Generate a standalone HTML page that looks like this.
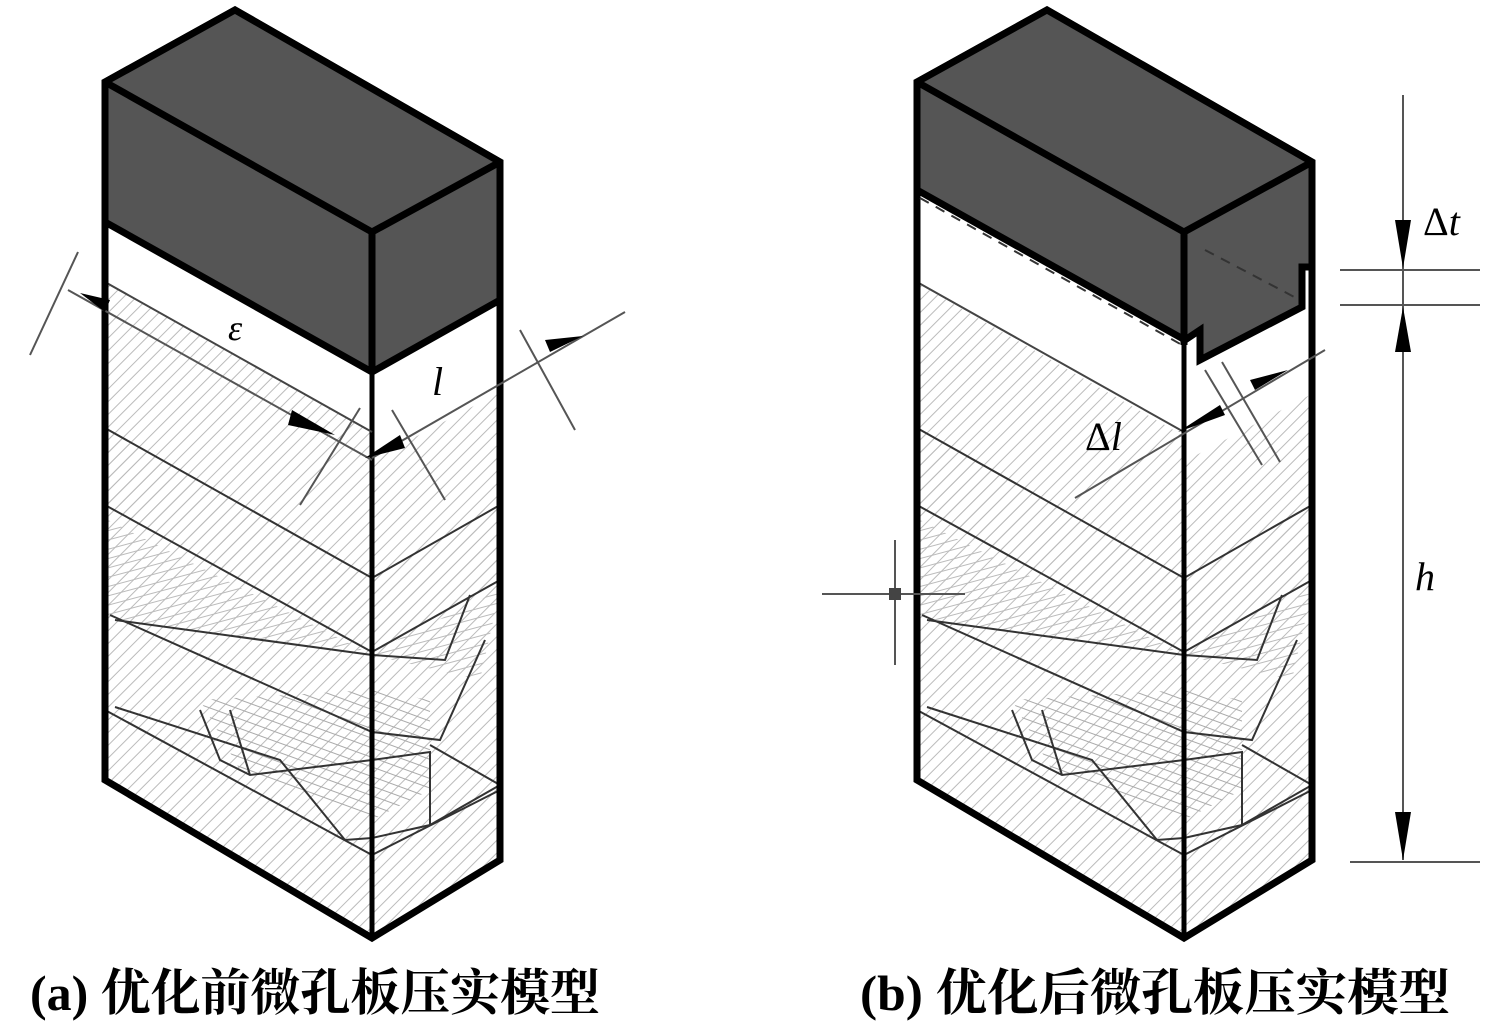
<!DOCTYPE html>
<html><head><meta charset="utf-8"><style>
html,body{margin:0;padding:0;background:#fff;}
svg{display:block;}
text{font-family:"Liberation Serif","Noto Serif CJK SC",serif;}
</style></head><body>
<svg width="1500" height="1026" viewBox="0 0 1500 1026" xmlns="http://www.w3.org/2000/svg">
<defs>
<pattern id="h1" width="9" height="9" patternUnits="userSpaceOnUse" patternTransform="rotate(45)">
<line x1="0" y1="0" x2="0" y2="9" stroke="#bbb" stroke-width="2"/></pattern>
<pattern id="h2" width="9" height="9" patternUnits="userSpaceOnUse" patternTransform="rotate(75)">
<line x1="0" y1="0" x2="0" y2="9" stroke="#bbb" stroke-width="2"/></pattern>
<pattern id="h3" width="9" height="9" patternUnits="userSpaceOnUse" patternTransform="rotate(-70)">
<line x1="0" y1="0" x2="0" y2="9" stroke="#aaa" stroke-width="2"/></pattern>
<g id="body">
<polygon points="105,282 372,432 372,938 105,780" fill="url(#h1)"/>
<polygon points="372,460 500,392 500,860 372,938" fill="url(#h1)"/>
<polygon points="108,508 372,652 500,580 500,500 372,578 108,430" fill="url(#h1)"/>
<polygon points="108,520 372,655 480,680 500,590 372,652 108,620" fill="url(#h2)"/>
<polygon points="200,700 372,690 430,700 430,790 372,820 240,770" fill="url(#h3)"/>
<g fill="none" stroke="#333" stroke-width="2">
<polyline points="105,428 372,578 500,505"/>
<polyline points="105,505 372,652 500,580"/>
<polyline points="115,620 372,655 445,660 470,595"/>
<polyline points="110,615 372,732 440,740 485,640"/>
<polyline points="115,707 280,760 345,840 372,838 430,825 500,785"/>
<polyline points="105,710 372,855 500,790"/>
<polyline points="200,710 220,760 250,775 372,760 430,752 430,825"/>
<polyline points="230,710 250,775"/>
<line x1="430" y1="745" x2="500" y2="785"/>
</g>
<g fill="none" stroke="#000" stroke-width="7" stroke-linejoin="miter">
<polygon points="105,82 235,10 500,162 500,860 372,938 105,780"/>
</g>
<line x1="372" y1="232" x2="372" y2="938" stroke="#000" stroke-width="5"/>
</g>
</defs>

<!-- (a) -->
<use href="#body"/>
<line x1="105" y1="282" x2="372" y2="432" stroke="#444" stroke-width="2"/>
<polygon points="105,82 235,10 500,162 500,300 372,372 105,222" fill="#555" stroke="#000" stroke-width="7" stroke-linejoin="miter"/>
<polyline points="105,82 372,232 500,162" fill="none" stroke="#000" stroke-width="7"/>
<line x1="372" y1="232" x2="372" y2="372" stroke="#000" stroke-width="7"/>
<line x1="105" y1="82" x2="105" y2="780" stroke="#000" stroke-width="7"/>
<g stroke="#555" stroke-width="2" fill="none">
<line x1="68" y1="290" x2="372" y2="460"/>
<line x1="30" y1="355" x2="78" y2="252"/>
<line x1="300" y1="505" x2="360" y2="408"/>
<line x1="372" y1="458" x2="625" y2="312"/>
<line x1="520" y1="330" x2="575" y2="430"/>
<line x1="392" y1="410" x2="445" y2="500"/>
</g>
<polygon points="105,312 80,293 110,300" fill="#000"/>
<polygon points="292,410 335,435 288,425" fill="#000"/>
<polygon points="365,458 400,435 405,448" fill="#000"/>
<polygon points="583,336 550,352 545,340" fill="#000"/>
<text x="228" y="340" font-size="36" font-style="italic">ε</text>
<text x="432" y="395" font-size="40" font-style="italic">l</text>

<!-- (b) -->
<use href="#body" transform="translate(812,0)"/>
<polygon points="920,200 1182,345 1184,436 920,285" fill="#fff"/>
<polygon points="1187,350 1310,280 1310,395 1187,460" fill="#fff"/>
<line x1="917" y1="282" x2="1184" y2="432" stroke="#444" stroke-width="2"/>
<polygon points="917,82 1047,10 1312,162 1312,267 1302,267 1302,307 1200,360 1200,330 1185,340 917,190" fill="#555" stroke="#000" stroke-width="7" stroke-linejoin="miter"/>
<polyline points="917,82 1184,232 1312,162" fill="none" stroke="#000" stroke-width="7"/>
<line x1="1184" y1="232" x2="1184" y2="345" stroke="#000" stroke-width="7"/>
<line x1="917" y1="82" x2="917" y2="780" stroke="#000" stroke-width="7"/>
<line x1="1312" y1="162" x2="1312" y2="860" stroke="#000" stroke-width="7"/>
<line x1="1184" y1="340" x2="1184" y2="938" stroke="#000" stroke-width="5"/>
<g stroke="#333" stroke-width="2" fill="none" stroke-dasharray="10,8">
<line x1="920" y1="198" x2="1182" y2="345"/>
<line x1="1205" y1="250" x2="1300" y2="300"/>
</g>
<g stroke="#555" stroke-width="2" fill="none">
<line x1="1075" y1="498" x2="1325" y2="350"/>
<line x1="1205" y1="370" x2="1262" y2="465"/>
<line x1="1222" y1="362" x2="1280" y2="462"/>
<line x1="1403" y1="95" x2="1403" y2="860"/>
<line x1="1340" y1="270" x2="1480" y2="270"/>
<line x1="1340" y1="305" x2="1480" y2="305"/>
<line x1="1350" y1="862" x2="1480" y2="862"/>
<line x1="822" y1="594" x2="965" y2="594"/>
<line x1="895" y1="540" x2="895" y2="665"/>
</g>
<rect x="889" y="588" width="12" height="12" fill="#444"/>
<polygon points="1178,432 1220,405 1225,415" fill="#000"/>
<polygon points="1288,370 1255,390 1250,380" fill="#000"/>
<polygon points="1395,220 1411,220 1403,268" fill="#000"/>
<polygon points="1395,352 1411,352 1403,307" fill="#000"/>
<polygon points="1395,812 1411,812 1403,860" fill="#000"/>
<text x="1423" y="235" font-size="40">Δ<tspan font-style="italic">t</tspan></text>
<text x="1085" y="450" font-size="40">Δ<tspan font-style="italic">l</tspan></text>
<text x="1415" y="590" font-size="40" font-style="italic">h</text>

<text x="30" y="1010" font-size="50" font-weight="bold" textLength="570" lengthAdjust="spacingAndGlyphs">(a) 优化前微孔板压实模型</text>
<text x="860" y="1010" font-size="50" font-weight="bold" textLength="590" lengthAdjust="spacingAndGlyphs">(b) 优化后微孔板压实模型</text>
</svg>
</body></html>
